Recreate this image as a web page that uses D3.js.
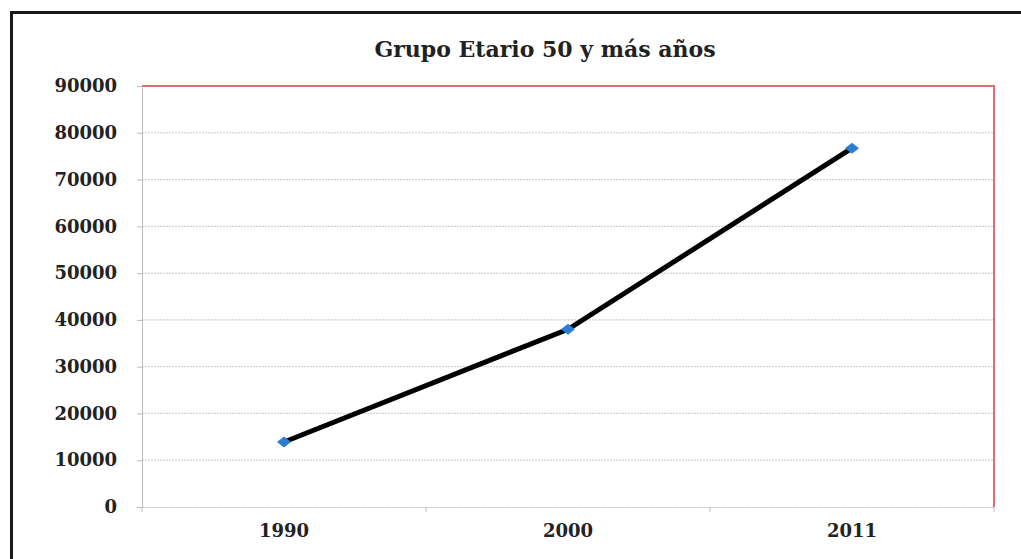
<!DOCTYPE html>
<html>
<head>
<meta charset="utf-8">
<script src="https://cdn.jsdelivr.net/npm/d3@7"></script>
<style>
body { margin:0; background:#fff; }
text { font-family: "DejaVu Serif", serif; font-weight: bold; fill:#222; }
</style>
</head>
<body>
<script>
// data
var years = ["1990", "2000", "2011"];
var poblacion = [13900, 38000, 76700];
var yTicks = [0, 10000, 20000, 30000, 40000, 50000, 60000, 70000, 80000, 90000];

var W = 1021, H = 559;
var m = {left:142, right:27, top:86, bottom:52};

var svg = d3.select("body").append("svg")
	.attr("width", W).attr("height", H);

// outer frame (only top and left visible)
svg.append("path")
	.attr("d", "M11.5," + H + " V12.5 H" + W)
	.attr("fill", "none")
	.attr("stroke", "#1a1a1a")
	.attr("stroke-width", 3);

var x = d3.scaleBand().domain(years).range([m.left, W - m.right]);
var y = d3.scaleLinear().domain([0, 90000]).range([H - m.bottom, m.top]);

// grid lines
svg.append("g").selectAll("line")
	.data(yTicks.slice(1, -1))
	.enter().append("line")
	.attr("x1", m.left).attr("x2", W - m.right)
	.attr("y1", function(d){return y(d)}).attr("y2", function(d){return y(d)})
	.attr("stroke", "#cdd2d5")
	.attr("stroke-width", 1.2)
	.attr("stroke-dasharray", "2,1");

// red plot border top + right
svg.append("path")
	.attr("d", "M" + m.left + "," + y(90000) + " H" + (W - m.right) + " V" + y(0))
	.attr("fill", "none")
	.attr("stroke", "#e07070")
	.attr("stroke-width", 2);

// y axis
var yAxis = svg.append("g")
	.attr("transform", "translate(" + m.left + ",0)")
	.call(d3.axisLeft(y).tickValues(yTicks).tickSize(5).tickPadding(20).tickFormat(d3.format("d")));
yAxis.selectAll("line, path").attr("stroke", "#b8bcbf");
yAxis.selectAll("text").style("font-size", "18px").attr("fill", "#222");

// x axis
var xAxis = svg.append("g")
	.attr("transform", "translate(0," + y(0) + ")")
	.call(d3.axisBottom(x).tickSize(0).tickPadding(17));
xAxis.select("path").attr("stroke", "#b8bcbf").attr("stroke-dasharray", "2,1");
xAxis.selectAll("text").style("font-size", "18px").attr("fill", "#222");
// tick marks between categories
xAxis.selectAll(".sep")
	.data(x.domain().map(function(d){return x(d)}).concat([W - m.right]))
	.enter().append("line")
	.attr("x1", function(d){return d}).attr("x2", function(d){return d})
	.attr("y1", 0).attr("y2", 5)
	.attr("stroke", "#b8bcbf");

// line
var line = d3.line()
	.x(function(d,i){return x(years[i]) + x.bandwidth()/2})
	.y(function(d){return y(d)});

svg.append("path")
	.datum(poblacion)
	.attr("d", line)
	.attr("fill", "none")
	.attr("stroke", "#000")
	.attr("stroke-width", 5);

// diamond markers, a bit wider than tall
svg.selectAll(".pt")
	.data(poblacion)
	.enter().append("path")
	.attr("class", "pt")
	.attr("d", "M-7,0 L0,-5.5 L7,0 L0,5.5 Z")
	.attr("transform", function(d,i){return "translate(" + (x(years[i]) + x.bandwidth()/2) + "," + y(d) + ")"})
	.attr("fill", "#2a7fd0");

// title
svg.append("text")
	.attr("x", 545)
	.attr("y", 57)
	.attr("text-anchor", "middle")
	.style("font-size", "22px")
	.text("Grupo Etario 50 y más años");
</script>
</body>
</html>
